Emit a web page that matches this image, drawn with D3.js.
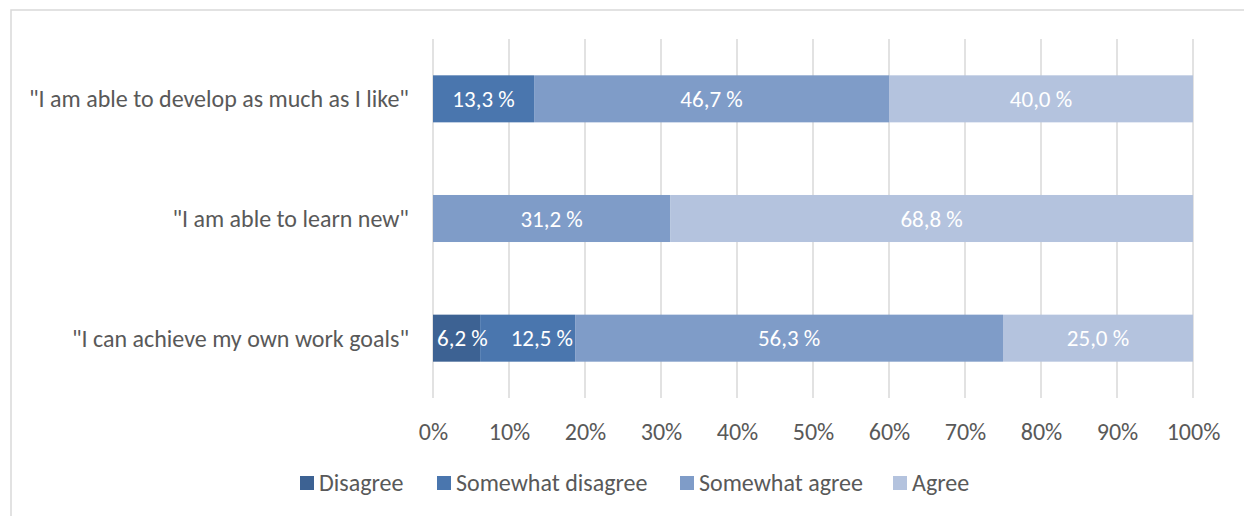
<!DOCTYPE html>
<html>
<head>
<meta charset="utf-8">
<script src="https://cdn.jsdelivr.net/npm/d3@7"></script>
<style>
  html, body { margin: 0; padding: 0; background: #fff; }
  svg { display: block; }
  text { font-family: Carlito, "Open Sans", "Liberation Sans", sans-serif; }
</style>
</head>
<body>
<svg id="chart" width="1244" height="516"></svg>
<script>
const categories = [
  '"I am able to develop as much as I like"',
  '"I am able to learn new"',
  '"I can achieve my own work goals"'
];
const seriesNames = ["Disagree", "Somewhat disagree", "Somewhat agree", "Agree"];
const disagree         = [0,    0,    6.2];
const somewhatDisagree = [13.3, 0,    12.5];
const somewhatAgree    = [46.7, 31.2, 56.3];
const agree            = [40.0, 68.8, 25.0];
const tickValues = [0, 10, 20, 30, 40, 50, 60, 70, 80, 90, 100];
const colors = ["#3d6293", "#4a76ae", "#7f9cc8", "#b4c3de"];

const seriesValues = [disagree, somewhatDisagree, somewhatAgree, agree];
const rows = categories.map((c, i) => {
  const r = { cat: c };
  seriesNames.forEach((s, k) => r[s] = seriesValues[k][i]);
  return r;
});

const svg = d3.select("#chart");

// outer frame
svg.append("rect")
  .attr("x", 11).attr("y", 10).attr("width", 1244).attr("height", 520)
  .attr("fill", "none").attr("stroke", "#d9d9d9").attr("stroke-width", 1.5);

const x = d3.scaleLinear().domain([0, 100]).range([433, 1193]);
const y = d3.scaleBand().domain(categories).range([39, 398]).padding(0);
const barH = y.bandwidth() * 0.393;

// gridlines
svg.append("g").selectAll("line").data(tickValues).join("line")
  .attr("x1", d => x(d)).attr("x2", d => x(d))
  .attr("y1", 39).attr("y2", 398)
  .attr("stroke", "#d9d9d9").attr("stroke-width", 1.5);

const stack = d3.stack().keys(seriesNames)(rows);

const layers = svg.append("g").selectAll("g").data(stack).join("g")
  .attr("fill", (d, i) => colors[i]);

layers.selectAll("rect").data(d => d.filter(p => p[1] - p[0] > 0)).join("rect")
  .attr("x", d => x(d[0]))
  .attr("width", d => x(d[1]) - x(d[0]))
  .attr("y", d => y(d.data.cat) + (y.bandwidth() - barH) / 2)
  .attr("height", barH);

// value labels (with simple overlap avoidance, like the spreadsheet layout)
const labelG = svg.append("g");
const pad = 4, minGap = 23;
categories.forEach((cat, ci) => {
  let prevEnd = -Infinity;
  stack.forEach((layer, k) => {
    const p = layer[ci];
    const v = p[1] - p[0];
    if (!(v > 0)) return;
    const t = labelG.append("text")
      .attr("y", y(cat) + y.bandwidth() / 2)
      .attr("dy", "0.35em")
      .attr("text-anchor", "start")
      .attr("fill", "#ffffff")
      .attr("font-size", 23)
      .text(d3.format(".1f")(layer[ci].data[layer.key]).replace(".", ",") + " %");
    const w = t.node().getComputedTextLength();
    const x0 = x(p[0]), x1 = x(p[1]);
    let left = (x0 + x1) / 2 - w / 2;
    if (left < x0 + pad) left = x0 + pad;
    if (left < prevEnd + minGap) left = Math.min(prevEnd + minGap, x1 - w);
    t.attr("x", left);
    prevEnd = left + w;
  });
});

// category labels
svg.append("g").selectAll("text").data(categories).join("text")
  .attr("x", 409)
  .attr("y", d => y(d) + y.bandwidth() / 2)
  .attr("dy", "0.35em")
  .attr("text-anchor", "end")
  .attr("fill", "#595959")
  .attr("font-size", 24)
  .text(d => d);

// x axis
const xAxis = d3.axisBottom(x).tickValues(tickValues).tickSize(0).tickPadding(0)
  .tickFormat(d => d + "%");
const gx = svg.append("g").attr("transform", "translate(0,432)").call(xAxis);
gx.select(".domain").remove();
gx.selectAll("text")
  .attr("dy", "0.35em")
  .attr("y", 0)
  .attr("fill", "#595959")
  .attr("font-size", 24)
  .style("font-family", 'Carlito, "Open Sans", "Liberation Sans", sans-serif');

// legend
const legendX = [300, 437, 680, 893];
const lg = svg.append("g").selectAll("g").data(seriesNames).join("g")
  .attr("transform", (d, i) => `translate(${legendX[i]},476)`);
lg.append("rect").attr("width", 14).attr("height", 14).attr("fill", (d, i) => colors[i]);
lg.append("text").attr("x", 19).attr("y", 7).attr("dy", "0.35em")
  .attr("fill", "#595959").attr("font-size", 24).text(d => d);
</script>
</body>
</html>
